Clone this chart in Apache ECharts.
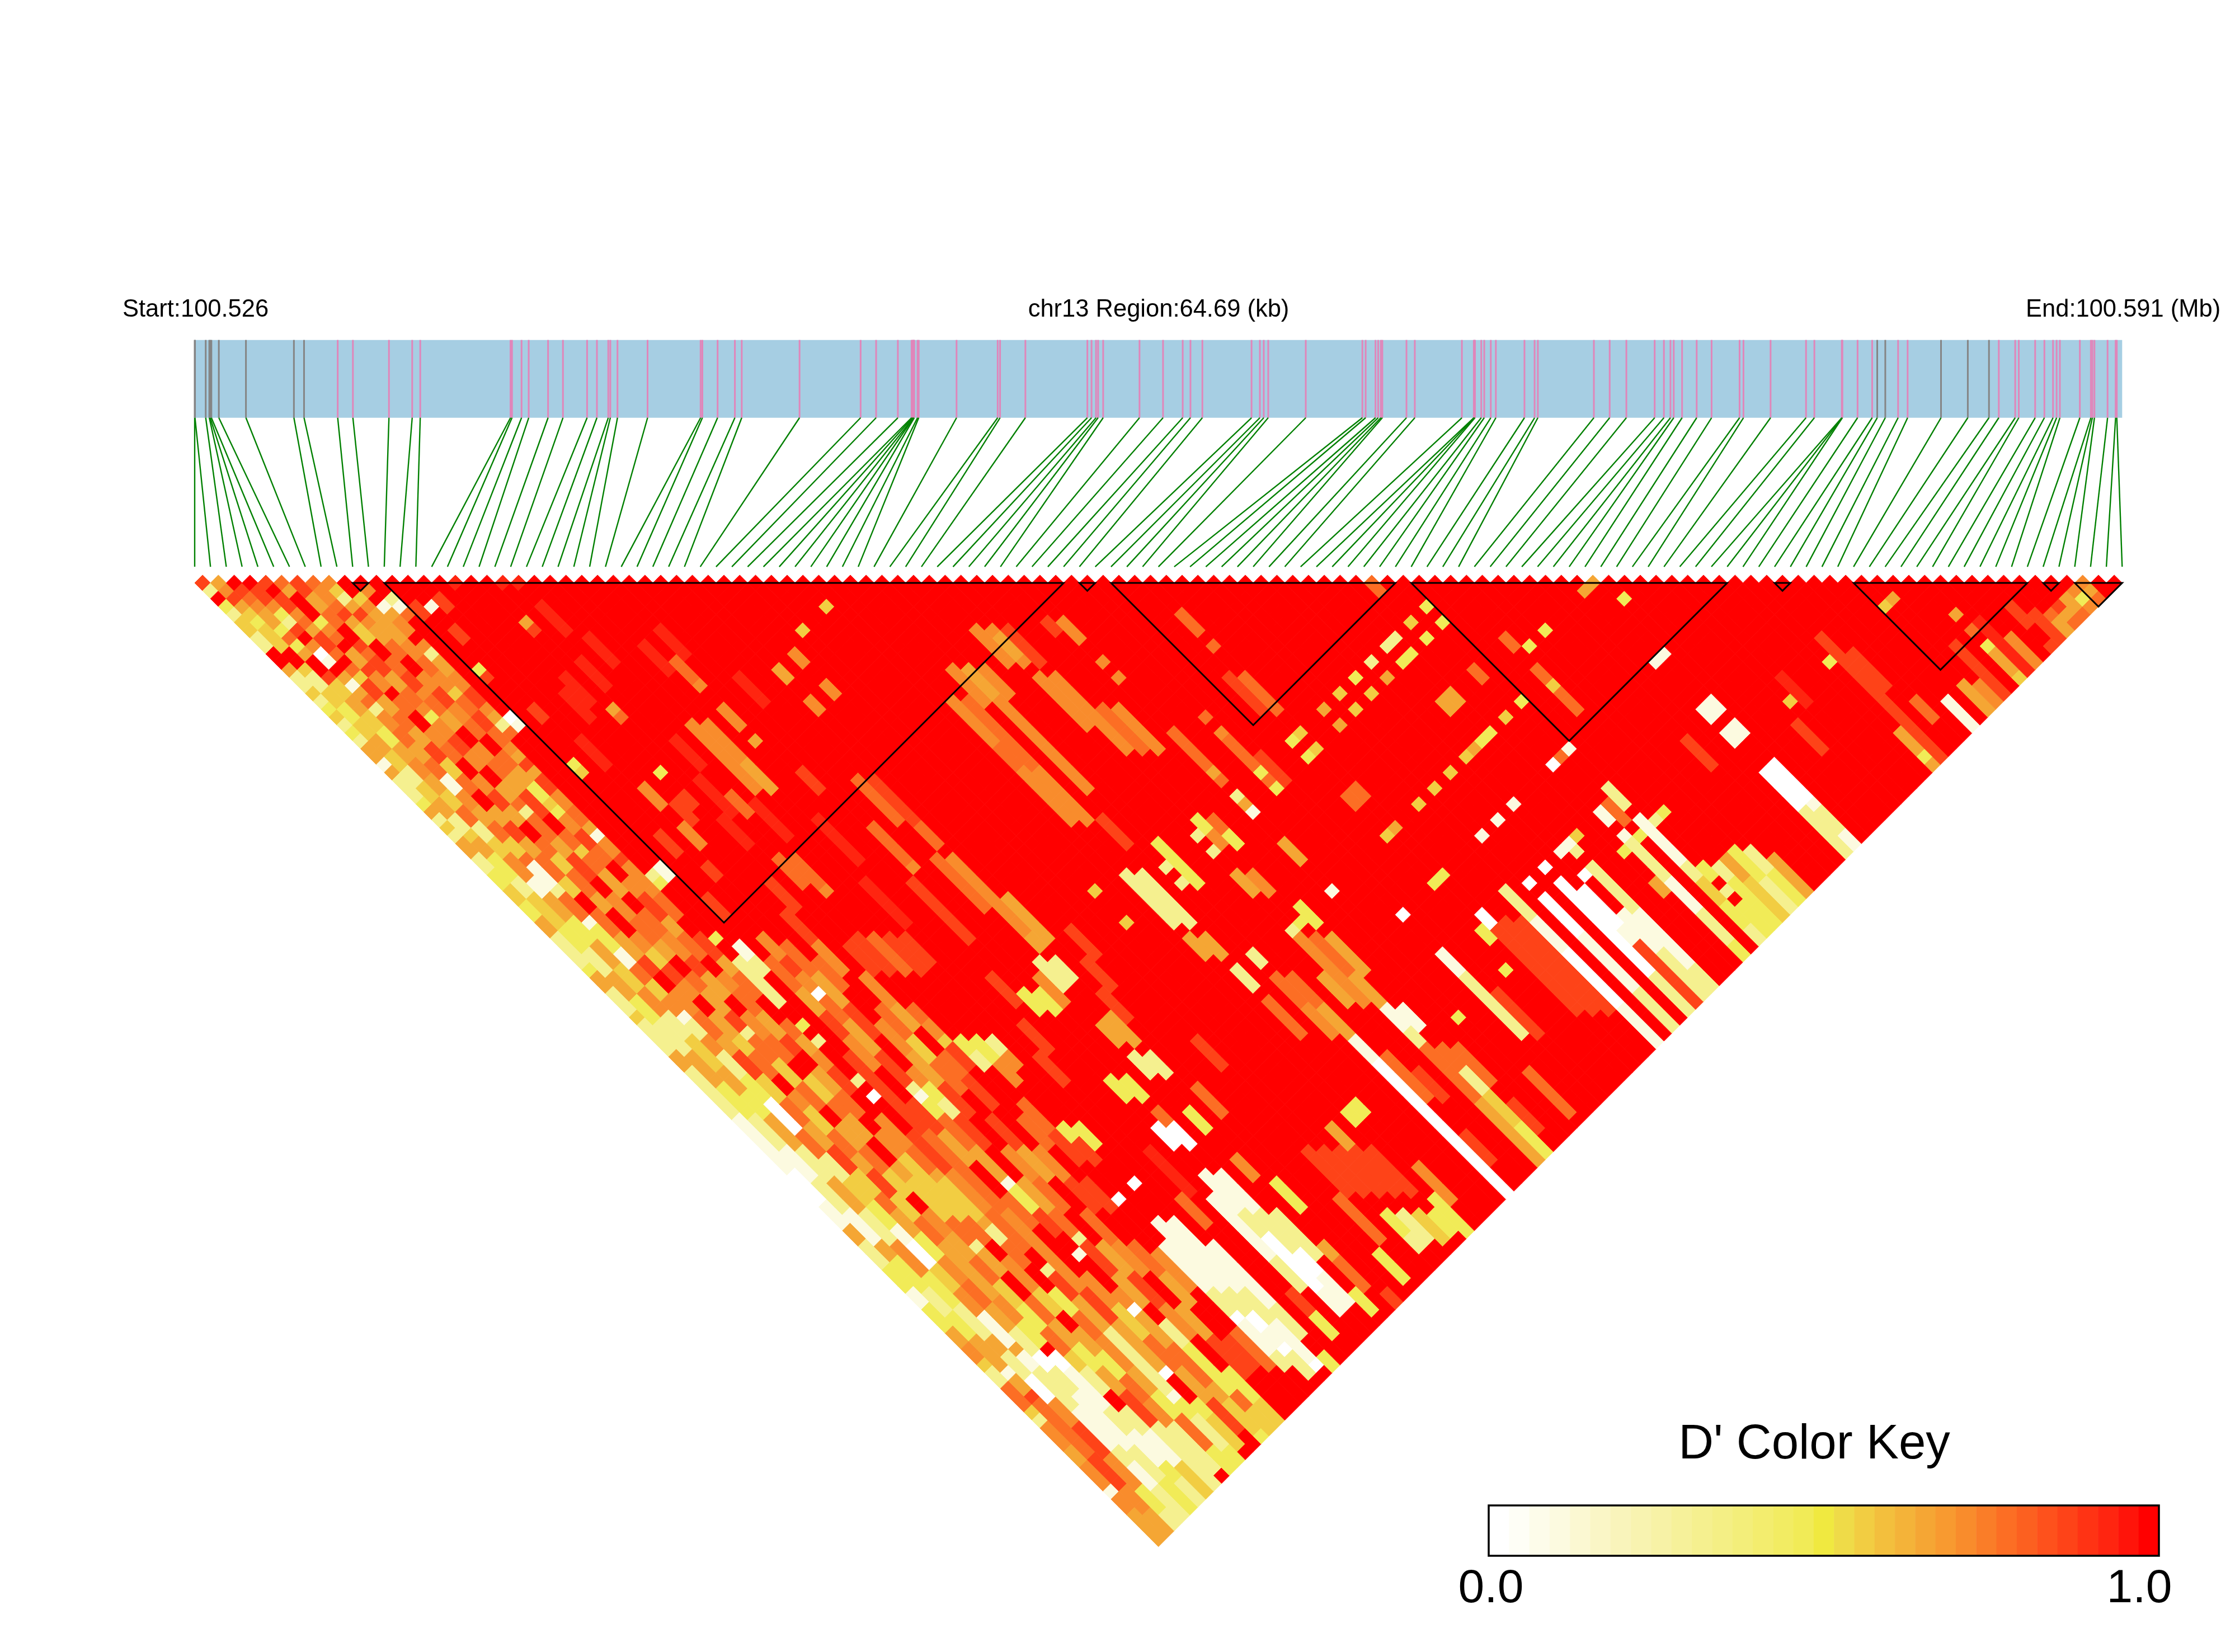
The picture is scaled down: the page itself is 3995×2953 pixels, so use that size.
<!DOCTYPE html>
<html>
<head>
<meta charset="utf-8">
<title>LD heatmap</title>
<style>
  html, body { margin: 0; padding: 0; background: #fff; }
  #main { width: 3995px; height: 2953px; }
</style>
<script src="https://cdn.jsdelivr.net/npm/echarts@6/dist/echarts.min.js"></script>
</head>
<body>
<div id="main"></div>
<script>
// region length and snp positions on it, in kb from the start
var regionKb = 64.69;
var snpKb = [0,0.01,0.37,0.49,0.52,0.56,0.81,1.72,3.33,3.67,4.80,5.31,6.52,7.30,7.57,10.60,10.65,10.97,11.21,11.86,
  12.36,13.17,13.50,13.88,13.95,14.19,15.20,16.98,17.04,17.55,18.13,18.36,20.30,22.35,22.87,23.60,24.06,24.09,24.12,24.13,
  24.15,24.26,24.30,25.57,26.95,27.03,27.88,29.96,30.10,30.25,30.32,30.49,31.71,32.50,33.16,33.42,33.82,35.47,35.75,35.88,
  36.03,37.29,39.19,39.30,39.63,39.72,39.81,39.86,40.67,40.95,42.53,42.93,42.95,42.97,43.18,43.28,43.50,43.67,44.63,44.97,
  45.08,46.96,47.49,48.05,49.00,49.31,49.53,49.64,49.92,50.41,50.91,51.85,51.98,52.89,54.08,54.36,55.28,55.29,55.30,55.81,
  56.30,56.47,56.74,57.17,57.49,58.61,59.51,60.22,60.55,61.10,61.22,61.77,62.08,62.37,62.49,62.60,63.27,63.64,63.69,63.76,
  64.20,64.47,64.51];
var greySnpKb = [0,0.01,0.37,0.49,0.52,0.56,0.81,1.72,3.33,3.67,56.47,56.74,58.61,59.51,60.22];

// LD blocks, as [first snp, last snp]
var ldBlocks = [[10,11],[12,55],[56,57],[58,76],[77,97],[100,101],[105,116],[117,118],[119,122]];

// colour key bands, 0.0 to 1.0
var keyColors = ['#FFFFFF','#FEFEF6','#FDFCEA','#FCFAE0','#FBF8D2','#FAF6C6','#F9F4BB','#F8F3B0','#F7F2A6','#F6F19A','#F5F08F',
  '#F4EF85','#F3EE7A','#F3ED6E','#F2EC63','#F1EB57','#F0E940','#EFDB48','#F2CD42','#F3BF3D','#F4B339','#F5A634','#F89A30',
  '#F98C2C','#FA7D28','#FC6E24','#FC6020','#FE511C','#FE4318','#FF3314','#FF2510','#FF140A','#FF0000'];

// D', as key band number for each letter used in the runs below
var levelBand = {'0':0,'1':3,'2':10,'3':15,'4':18,'5':21,'6':23,'7':25,'8':28,'9':30,'.':32};

// one entry per snp a: "d:L" means from distance d on, D' is level L. d = b - a - 1
var dPrimeRuns = [
"0:8 1:2 2:. 3:3 4:2 5:4 7:2 9:. 11:5 12:2 14:4 15:2 16:3 17:4 18:2 19:3 20:2 21:5 23:1 24:5 25:2 28:3 29:5 30:2 31:4 32:2 33:5 35:2 37:3 39:4 41:3 43:5 45:2 49:3 50:5 52:2 55:4 56:2 60:5 62:2 65:2 68:1 75:0 79:1 82:5 84:2 87:3 90:1 92:3 95:5 97:6 99:4 100:2 102:7 105:4 106:2 107:6 110:5 112:6 115:1 116:6 118:5",
"0:5 1:6 2:8 3:5 4:4 5:3 6:4 9:. 11:4 12:2 14:4 16:3 18:4 20:5 22:4 24:2 26:4 28:5 30:2 32:4 33:5 35:3 38:2 40:4 44:3 47:2 50:5 53:3 56:2 60:5 64:3 68:2 72:1 76:2 80:1 84:5 86:3 90:2 93:3 96:5 100:1 101:5 103:8 104:7 111:8 115:6 118:5",
"0:. 1:8 2:7 3:6 4:5 6:3 7:7 8:3 9:5 10:. 12:8 13:4 15:5 17:4 19:3 21:5 23:6 25:5 27:4 29:7 31:2 33:4 35:6 38:1 40:5 43:3 46:5 49:4 52:6 55:2 58:4 62:5 65:3 68:5 72:2 76:5 80:2 84:6 88:3 92:2 96:5 98:2 101:0 104:6 107:8 111:6 115:3 118:2",
"0:. 1:8 3:6 4:3 5:2 6:8 7:. 8:6 9:0 10:1 11:. 12:5 13:1 14:5 15:7 16:2 17:6 19:7 21:5 23:7 25:1 27:6 29:5 31:7 33:4 35:7 36:1 39:2 40:7 43:1 44:3 47:1 49:7 51:4 53:6 55:1 56:2 58:6 60:2 63:3 66:0 70:7 73:2 76:4 79:3 82:1 84:0 87:4 90:6 93:1 97:5 98:1 100:2 105:1 110:2 112:1 115:2",
"0:8 1:. 2:8 4:6 5:7 6:5 7:8 9:7 10:. 11:7 12:4 13:8 15:5 17:7 19:5 21:8 23:4 25:7 27:. 29:5 31:8 33:5 35:7 38:4 40:. 42:7 45:5 48:8 50:. 52:6 55:7 58:5 60:8 63:4 66:7 69:5 72:8 75:4 78:7 80:5 83:3 86:6 89:7 92:5 95:2 98:0 100:2 103:1 110:2 114:3",
"0:7 1:5 2:. 5:3 6:6 7:7 8:. 9:5 11:8 12:6 14:. 15:7 17:. 19:6 21:7 23:. 25:6 27:8 29:5 31:. 33:7 35:4 37:7 40:5 42:. 45:6 47:4 49:8 51:6 53:. 55:5 58:4 60:7 63:. 65:6 67:4 70:7 73:5 75:8 78:4 81:7 84:5 91:6 94:3 97:. 98:0 100:1 105:2 108:1 112:3 114:2",
"0:8 2:5 4:7 6:. 8:8 9:7 10:8 12:5 14:7 16:6 17:3 18:6 20:8 22:6 24:. 26:5 28:7 29:2 30:7 33:5 35:8 38:. 40:6 43:7 46:5 48:. 50:7 52:5 55:8 57:2 58:7 61:4 64:7 67:. 69:5 72:7 75:4 78:. 80:6 83:5 86:7 89:4 92:3 95:7 98:4 100:2 103:. 105:2 108:1 112:4",
"0:7 1:6 3:7 4:8 5:5 6:4 8:. 10:7 12:8 14:6 15:7 17:5 19:. 21:6 23:7 25:5 27:8 30:. 32:7 34:4 35:7 37:5 40:. 42:7 45:6 48:8 50:5 53:. 55:6 58:7 61:. 63:4 66:7 68:5 71:. 74:5 76:4 81:7 84:2 85:5 88:. 91:7 94:5 97:3 100:5 103:8 107:2",
"0:6 1:4 2:2 3:5 4:8 5:6 6:5 8:7 10:. 12:6 14:8 16:6 18:7 20:. 22:7 24:5 26:3 28:4 29:3 30:6 32:8 34:7 36:. 38:6 40:8 43:5 45:7 48:. 50:6 52:7 55:5 58:8 60:. 62:5 65:7 68:. 70:6 73:4 81:7 84:. 86:6 90:4 93:. 95:5 98:3 101:7 104:6 107:2 113:.",
"0:. 2:4 3:6 4:5 8:6 10:7 12:6 14:4 15:7 17:8 19:7 21:6 22:5 23:8 24:5 25:8 27:6 29:7 31:5 32:1 33:6 35:8 36:6 40:7 43:. 45:8 48:5 50:7 53:. 56:7 58:5 60:6 62:8 65:. 68:6 72:7 75:5 76:4 81:5 82:2 84:7 87:. 90:3 93:7 96:6 100:5 103:3 106:7 110:3",
"0:. 1:6 2:. 3:1 4:5 5:6 7:. 8:6 9:2 10:5 12:6 14:8 16:6 17:5 18:2 19:7 20:. 37:2 38:3 39:. 45:3 46:. 48:2 54:. 56:3 57:. 58:2 59:. 63:2 64:. 65:0 66:. 70:8 75:6 80:7 85:. 87:2 88:8 91:5 95:2 103:1 104:3 106:2 110:3",
"0:. 2:2 3:1 4:7 5:. 17:0 18:1 19:. 36:1 38:. 46:1 48:2 50:. 60:8 70:7 80:6 90:8 94:5 100:0 101:. 104:3 106:4 110:.",
"0:. 3:8 5:. 11:3 12:8 13:. 23:3 24:4 25:. 40:8 43:. 48:7 52:5 55:8 58:6 62:. 66:8 70:5 74:. 78:7 82:. 88:6 92:4 96:7 100:5 104:8 108:.",
"0:. 3:1 4:. 6:8 8:. 16:8 18:. 32:8 35:. 45:6 48:8 50:6 52:0 53:7 56:5 60:8 64:2 65:1 66:3 68:7 72:5 76:1 77:3 80:8 83:. 85:1 86:. 90:6 92:0 93:5 97:7 102:5 104:4 108:3",
"0:. 2:8 4:. 20:9 24:. 36:8 38:. 46:7 50:5 54:8 58:. 62:6 64:3 66:2 68:8 72:. 76:5 80:7 83:2 84:8 88:5 92:. 94:2 97:3 103:7 105:4",
"0:. 26:6 29:. 31:6 34:. 48:7 52:. 56:6 60:5 64:8 68:. 72:6 76:7 80:. 84:5 88:8 92:6 96:. 100:3 104:4",
"0:9 1:. 14:9 18:. 28:8 31:. 42:8 46:6 50:. 54:7 58:4 61:7 65:. 68:8 72:5 76:. 80:7 84:6 88:. 92:5 96:8 101:.",
"0:. 12:9 16:. 24:3 25:. 27:8 29:. 38:8 42:. 50:6 54:5 57:. 60:7 63:8 67:. 72:6 76:8 80:. 84:7 88:5 92:. 96:8 100:.",
"0:. 5:5 6:8 7:. 16:5 17:7 18:. 30:9 34:. 46:8 50:. 54:7 56:6 58:4 59:8 62:. 68:7 72:. 76:8 80:. 85:6 90:. 95:7 100:.",
"0:9 1:. 10:9 14:. 25:9 30:. 35:7 39:. 45:8 50:. 58:3 60:2 62:. 66:7 70:8 74:. 78:0 79:. 84:1 90:2 93:0 94:1 98:2 100:.",
"0:9 1:. 3:9 7:. 20:9 24:. 27:7 30:. 35:7 39:6 40:. 45:7 50:. 58:3 61:6 64:. 69:3 71:8 74:. 81:1 90:2 93:0 95:1 97:0 98:2 101:.",
"0:. 7:9 11:. 28:9 33:. 45:8 50:. 58:2 60:6 62:. 69:3 72:. 76:0 77:. 81:1 90:2 94:1 99:0 100:.",
"0:. 18:6 27:. 45:8 49:. 84:1 92:2 96:. 98:3 102:.",
"0:. 18:6 23:5 27:. 38:9 44:. 60:8 64:. 78:7 82:.",
"0:. 8:9 12:. 30:9 36:. 56:8 60:. 72:9 78:. 90:8 93:3 96:.",
"0:. 10:7 13:6 14:. 16:6 19:. 20:5 21:. 50:8 54:. 78:1 86:2 90:.",
"0:. 6:9 10:. 24:8 27:. 38:8 46:. 52:3 55:. 63:3 66:. 69:0 72:. 75:1 80:2 83:0 90:1 93:.",
"0:. 31:7 36:6 37:. 52:3 55:. 63:3 66:. 67:7 69:0 72:. 75:1 80:2 85:0 88:1 92:.",
"0:. 12:9 16:. 50:6 54:. 80:2 86:. 90:3 93:.",
"0:. 25:7 31:. 35:7 42:. 48:2 52:. 56:5 59:. 60:2 63:. 67:3 70:. 73:6 76:. 84:5 86:7 90:.",
"0:. 25:8 31:7 34:. 35:6 42:6 45:5 47:. 48:2 51:. 55:5 59:. 60:2 63:. 76:3 80:. 90:8",
"0:. 11:5 13:. 15:6 17:. 40:5 46:. 52:8 56:. 64:7 68:.",
"0:. 48:8 52:. 85:3 89:.",
"0:. 9:6 11:. 13:6 15:. 44:8 48:. 78:7 84:.",
"0:. 58:8 62:. 72:8 78:.",
"0:. 6:4 7:. 72:8 78:. 80:3 83:2 85:.",
"0:. 72:8 78:. 80:2 84:.",
"0:. 39:4 40:. 43:4 44:. 69:5 72:8 78:. 80:4 84:.",
"0:. 3:4 4:. 72:8 78:. 80:3 83:.",
"0:. 67:3 69:. 78:3",
"0:. 15:6 21:7 24:6 31:. 37:2 44:. 45:5 48:. 66:3 68:. 74:6 79:.",
"0:. 15:7 21:7 24:6 31:. 37:2 44:. 45:5 48:. 49:2 52:. 53:7 58:.",
"0:. 11:6 16:. 30:8 34:.",
"0:. 11:5 15:6 27:. 36:2 37:. 38:2 39:. 47:2 49:. 50:7 54:6 58:.",
"0:. 11:6 15:. 33:3 39:. 50:7 54:5 58:1 61:0",
"0:. 60:7 66:. 70:8 74:.",
"0:. 6:6 11:. 50:5 54:. 62:8 66:.",
"0:. 6:6 7:5 10:6 11:. 12:6 19:. 32:2 33:. 34:2 35:. 37:5 40:. 44:2 45:6 54:.",
"0:. 6:8 11:. 12:6 22:. 30:3 32:6 34:. 37:6 40:. 43:3 44:. 45:7 50:5 54:1 57:2 59:7 66:5",
"0:. 16:7 22:. 30:7 32:3 34:. 41:3 44:. 45:5 50:. 54:1 57:. 59:7 62:2 65:4 69:3",
"0:. 16:6 22:. 59:7 64:. 66:8 70:.",
"0:. 5:8 7:.",
"0:. 5:6 8:. 10:6 11:. 12:6 13:. 19:7 24:5 25:7 26:. 27:2 28:5 29:1 30:. 33:5 36:. 39:1 40:. 55:3 56:.",
"0:. 62:7 68:.",
"0:.",
"0:. 17:7 18:. 19:6 20:7 24:3 25:7 26:3 27:. 42:0 43:. 47:1 50:2 58:.",
"0:. 22:8 26:. 52:8 58:.",
"0:.",
"0:. 49:3 50:.",
"0:. 12:8 17:. 20:3 21:. 22:3 23:. 27:7 29:. 32:4 33:. 38:3 39:. 44:3 46:.",
"0:. 4:7 7:. 8:7 9:. 12:7 17:. 19:4 20:. 21:4 22:. 26:7 28:. 31:5 32:. 37:3 38:. 42:0 44:8 55:.",
"0:. 43:8 55:.",
"0:. 43:8 55:.",
"0:. 16:5 17:. 18:5 19:. 28:4 29:. 39:2 43:1 47:0 54:1",
"0:.",
"0:. 14:4 15:. 16:4 17:. 26:4 27:. 32:1 33:. 38:0 39:. 40:0 45:1 52:2",
"0:.",
"0:. 12:3 13:. 14:4 15:. 24:4 25:. 30:1 31:. 36:0 37:. 38:0 50:2",
"0:. 39:0 44:1 46:8",
"0:. 10:2 11:. 12:5 13:. 22:4 23:. 28:1 29:. 34:1 35:. 37:0 38:. 42:1 47:2",
"0:. 21:5 22:. 33:1 34:2 35:. 36:2 42:1 49:2",
"0:. 8:2 9:. 10:3 11:. 15:5 17:. 20:3 21:. 32:4 33:.",
"0:. 7:2 8:. 9:3 10:. 14:5 16:. 19:3 20:.",
"0:. 34:3 35:. 38:5 40:.",
"0:7 2:. 5:4 6:. 7:3 8:. 17:4 18:. 23:0 24:. 29:1 31:. 32:1 33:2 38:1 42:2 46:3",
"0:. 11:7 13:. 22:7 23:. 28:7 31:. 32:3 33:.",
"0:. 3:3 4:. 5:3 6:. 15:3 16:. 21:1 22:. 26:2 29:. 30:1 36:2 38:4 41:3 44:2",
"0:. 30:2 31:. 36:3 38:. 39:2 40:. 41:3",
"0:. 29:3 30:. 36:2 38:3",
"0:. 7:7 9:. 11:7 13:4 14:7 17:. 35:5 38:4",
"0:. 8:3 9:. 34:3 38:2",
"0:. 34:2 37:3",
"0:. 6:3 7:. 35:5",
"0:.",
"0:. 20:8 24:.",
"0:.",
"0:.",
"0:. 1:5 2:. 10:1 11:. 16:1 18:. 19:1 21:. 24:0 29:2",
"0:5 1:. 9:1 10:. 15:1 17:. 18:1 20:. 23:0 28:1 29:2 32:1",
"0:. 2:3 3:.",
"0:.",
"0:.",
"0:. 18:8 22:.",
"0:. 15:4 16:.",
"0:. 12:9 16:.",
"0:.",
"0:. 26:8",
"0:.",
"0:. 10:3 11:. 19:5 22:3 23:5",
"0:. 7:8",
"0:. 9:8 14:.",
"0:. 15:7 18:.",
"0:.",
"0:. 15:1",
"0:.",
"0:. 3:4 4:. 13:5",
"0:. 2:5 3:. 13:6",
"0:. 8:8",
"0:.",
"0:. 4:5 5:. 6:7 7:. 8:3 9:5 12:4",
"0:. 5:9",
"0:. 7:6",
"0:.",
"0:. 3:8 6:. 8:8",
"0:. 4:8",
"0:. 4:7 5:5 8:6",
"0:. 3:8 4:5 5:7",
"0:. 2:5 4:7 5:.",
"0:. 1:6 2:3 3:6 4:.",
"0:6 1:5 2:7 3:6",
"0:.",
"0:.",
"0:."
];

var snpCount = snpKb.length;
var pairCount = snpCount - 1;

function kbOfSlot(slot) {
  return slot * regionKb / pairCount;
}

// build the triangle cells [kb centre, distance, band]
var cells = [];
dPrimeRuns.forEach(function (runs, a) {
  var tokens = runs.split(' ').map(function (t) {
    var p = t.split(':');
    return { from: +p[0], level: p[1] };
  });
  var last = pairCount - a;
  tokens.forEach(function (tk, i) {
    var to = i + 1 < tokens.length ? tokens[i + 1].from : last;
    for (var d = tk.from; d < to && d < last; d++) {
      cells.push([kbOfSlot(a + (d + 1) / 2), d, levelBand[tk.level]]);
    }
  });
});

var halfCell = regionKb / pairCount / 2;
var trackTop = -30.76, trackBottom = -20.91, connectorEnd = -2.05;

var chart = echarts.init(document.getElementById('main'), null, { renderer: 'canvas' });

chart.setOption({
  animation: false,
  backgroundColor: '#fff',
  grid: [
    { left: 348, top: 604.3, width: 3445.3, height: 2160.4 },
    { left: 2661, top: 2691, width: 1198, height: 90 }
  ],
  xAxis: [
    { type: 'value', gridIndex: 0, min: 0, max: regionKb, show: false },
    { type: 'value', gridIndex: 1, min: 0, max: keyColors.length, show: false }
  ],
  yAxis: [
    { type: 'value', gridIndex: 0, min: -31, max: 122, inverse: true, show: false },
    { type: 'value', gridIndex: 1, min: 0, max: 1, show: false }
  ],
  series: [
    {
      // LD triangle
      type: 'custom',
      xAxisIndex: 0, yAxisIndex: 0,
      silent: true,
      progressive: 0,
      data: cells,
      renderItem: function (params, api) {
        var x = api.value(0), d = api.value(1);
        var points = [
          api.coord([x, d - 1]),
          api.coord([x + halfCell, d]),
          api.coord([x, d + 1]),
          api.coord([x - halfCell, d])
        ];
        var color = keyColors[api.value(2)];
        return {
          type: 'polygon',
          shape: { points: points },
          style: { fill: color, stroke: color, lineWidth: 1 }
        };
      }
    },
    {
      // blue gene track
      type: 'custom',
      xAxisIndex: 0, yAxisIndex: 0,
      silent: true,
      data: [[0, regionKb]],
      renderItem: function (params, api) {
        var a = api.coord([api.value(0), trackTop]);
        var b = api.coord([api.value(1), trackBottom]);
        return {
          type: 'rect',
          shape: { x: a[0], y: a[1], width: b[0] - a[0], height: b[1] - a[1] },
          style: { fill: '#A6CEE3' }
        };
      }
    },
    {
      // snp ticks on the track and the green connectors below them
      type: 'custom',
      xAxisIndex: 0, yAxisIndex: 0,
      silent: true,
      progressive: 0,
      data: snpKb.map(function (kb, i) { return [kb, i]; }),
      renderItem: function (params, api) {
        var kb = api.value(0), slot = api.value(1);
        var top = api.coord([kb, trackTop]);
        var bottom = api.coord([kb, trackBottom]);
        var end = api.coord([kbOfSlot(slot), connectorEnd]);
        var isGrey = greySnpKb.indexOf(kb) >= 0;
        return {
          type: 'group',
          children: [
            {
              type: 'line',
              shape: { x1: top[0], y1: top[1], x2: bottom[0], y2: bottom[1] },
              style: { stroke: isGrey ? '#858585' : '#E086BA', lineWidth: 3 }
            },
            {
              type: 'line',
              shape: { x1: bottom[0], y1: bottom[1], x2: end[0], y2: end[1] },
              style: { stroke: '#008000', lineWidth: 2.4 }
            }
          ]
        };
      }
    },
    {
      // black LD block outlines
      type: 'custom',
      xAxisIndex: 0, yAxisIndex: 0,
      silent: true,
      z: 5,
      data: ldBlocks,
      renderItem: function (params, api) {
        var s = api.value(0), e = api.value(1);
        return {
          type: 'polygon',
          shape: {
            points: [
              api.coord([kbOfSlot(s), 0]),
              api.coord([kbOfSlot((s + e) / 2), e - s]),
              api.coord([kbOfSlot(e), 0])
            ]
          },
          style: { fill: 'none', stroke: '#000', lineWidth: 3 }
        };
      }
    },
    {
      // colour key bands
      type: 'custom',
      xAxisIndex: 1, yAxisIndex: 1,
      silent: true,
      data: keyColors.map(function (c, i) { return [i]; }),
      renderItem: function (params, api) {
        var i = api.value(0);
        var a = api.coord([i, 1]);
        var b = api.coord([i + 1, 0]);
        return {
          type: 'rect',
          shape: { x: a[0], y: a[1], width: b[0] - a[0] + 0.5, height: b[1] - a[1] },
          style: { fill: keyColors[i] }
        };
      }
    }
  ],
  graphic: [
    { type: 'rect', z: 10, shape: { x: 2661, y: 2691, width: 1198, height: 90 }, style: { fill: 'none', stroke: '#000', lineWidth: 3.5 } },
    { type: 'text', z: 10, style: { text: 'Start:100.526', x: 219, y: 554, fill: '#000', font: '43.5px "Liberation Sans"', align: 'left', verticalAlign: 'middle' } },
    { type: 'text', z: 10, style: { text: 'chr13 Region:64.69 (kb)', x: 2071, y: 554, fill: '#000', font: '43.5px "Liberation Sans"', align: 'center', verticalAlign: 'middle' } },
    { type: 'text', z: 10, style: { text: 'End:100.591 (Mb)', x: 3621, y: 554, fill: '#000', font: '43.5px "Liberation Sans"', align: 'left', verticalAlign: 'middle' } },
    { type: 'text', z: 10, style: { text: "D' Color Key", x: 3243, y: 2583, fill: '#000', font: '87px "Liberation Sans"', align: 'center', verticalAlign: 'middle' } },
    { type: 'text', z: 10, style: { text: '0.0', x: 2665, y: 2841, fill: '#000', font: '84px "Liberation Sans"', align: 'center', verticalAlign: 'middle' } },
    { type: 'text', z: 10, style: { text: '1.0', x: 3824, y: 2841, fill: '#000', font: '84px "Liberation Sans"', align: 'center', verticalAlign: 'middle' } }
  ]
});
</script>
</body>
</html>
